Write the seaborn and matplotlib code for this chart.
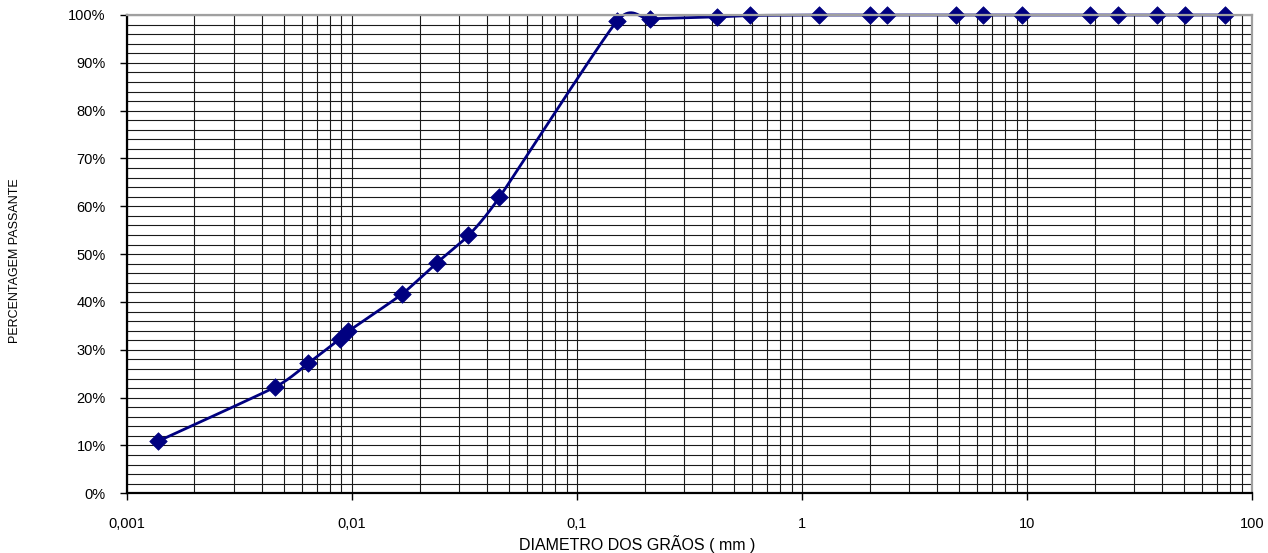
import numpy as np
import pandas as pd
import matplotlib
matplotlib.use("Agg")
import matplotlib.pyplot as plt
from matplotlib.ticker import FixedLocator, FuncFormatter, NullFormatter
import seaborn as sns

# Grain-size distribution (sieve + sedimentation)
diametro_mm = [0.00138, 0.00456, 0.00641, 0.00887, 0.00967, 0.01667, 0.0239,
               0.0330, 0.0453, 0.1507, 0.2105, 0.4217, 0.589, 1.19, 2.0, 2.39,
               4.83, 6.41, 9.5, 19.1, 25.3, 38.0, 50.5, 76.1]
passante_pct = [10.9, 22.2, 27.2, 32.3, 33.9, 41.6, 48.2,
                53.9, 61.9, 98.7, 99.2, 99.6, 99.9, 100.0, 100.0, 100.0,
                100.0, 100.0, 100.0, 100.0, 100.0, 100.0, 100.0, 100.0]
x_ticks = [0.001, 0.01, 0.1, 1, 10, 100]
x_tick_labels = ["0,001", "0,01", "0,1", "1", "10", "100"]
y_ticks = list(range(0, 101, 10))

df = pd.DataFrame({"d": diametro_mm, "p": passante_pct})

sns.set_theme(style="white")
plt.rcParams["font.family"] = ["Liberation Sans", "DejaVu Sans"]

W, H = 1268, 553
fig = plt.figure(figsize=(W / 100, H / 100), dpi=100)
ax = fig.add_axes([126.7 / W, 1 - 493.3 / H, (1252 - 126.7) / W, (493.3 - 15) / H])
ax.set_xscale("log")
ax.set_xlim(0.001, 100)
ax.set_ylim(0, 100)

# Grid: minor decade subdivisions and every 2 %
minor_x = [m * 10.0 ** e for e in range(-3, 2) for m in range(2, 10)]
for xv in minor_x + x_ticks:
    ax.axvline(xv, color="#1a1a1a", lw=0.8, zorder=1)
for yv in np.arange(0, 101, 2):
    ax.axhline(yv, color="#1a1a1a", lw=0.8, zorder=1)

# Smoothed connecting curve (cubic Bezier in display space)
fig.canvas.draw()
pts = ax.transData.transform(np.column_stack([df["d"], df["p"]]))
n = len(pts)
tension = 0.1
curve = []
for i in range(n - 1):
    p0 = pts[max(i - 1, 0)]
    p1 = pts[i]
    p2 = pts[i + 1]
    p3 = pts[min(i + 2, n - 1)]
    c1 = p1 + (p2 - p0) * tension
    c2 = p2 - (p3 - p1) * tension
    t = np.linspace(0, 1, 40)[:, None]
    seg = ((1 - t) ** 3) * p1 + 3 * ((1 - t) ** 2) * t * c1 + 3 * (1 - t) * t ** 2 * c2 + t ** 3 * p2
    curve.append(seg if i == 0 else seg[1:])
curve = np.vstack(curve)
curve_data = ax.transData.inverted().transform(curve)
smooth = pd.DataFrame({"d": curve_data[:, 0], "p": curve_data[:, 1]})

sns.lineplot(data=smooth, x="d", y="p", sort=False, estimator=None,
             color="#000080", lw=2, ax=ax, zorder=3, clip_on=False)
sns.scatterplot(data=df, x="d", y="p", marker="D", s=80, color="#000080",
                edgecolor="#000080", linewidth=0.5, ax=ax, zorder=4, clip_on=False)

# Axes styling
ax.xaxis.set_major_locator(FixedLocator(x_ticks))
ax.xaxis.set_minor_locator(FixedLocator([]))
ax.xaxis.set_minor_formatter(NullFormatter())
ax.set_xticks(x_ticks)
ax.set_xticklabels(x_tick_labels)
ax.set_yticks(y_ticks)
ax.yaxis.set_major_formatter(FuncFormatter(lambda v, _: f"{int(round(v))}%"))
ax.tick_params(axis="both", which="major", direction="out", length=5, width=1,
               color="black", labelsize=10.5, labelcolor="black", bottom=True, left=True)
ax.tick_params(axis="x", pad=12)
ax.tick_params(axis="y", pad=10)
ax.set_xlabel("")
ax.set_ylabel("")

for side in ("left", "bottom"):
    ax.spines[side].set_color("black")
    ax.spines[side].set_linewidth(1.6)
for side in ("top", "right"):
    ax.spines[side].set_color("#a0a0a0")
    ax.spines[side].set_linewidth(1.6)
for s in ax.spines.values():
    s.set_visible(True)
    s.set_zorder(5)

fig.text(637 / W, 1 - 544 / H, "DIAMETRO DOS GRÃOS ( mm )", ha="center", va="center",
         fontsize=11.5, color="black")
fig.text(15 / W, 1 - 261 / H, "PERCENTAGEM PASSANTE", ha="center", va="center",
         rotation=90, fontsize=9, color="black")

fig.savefig("out.png", dpi=100)
